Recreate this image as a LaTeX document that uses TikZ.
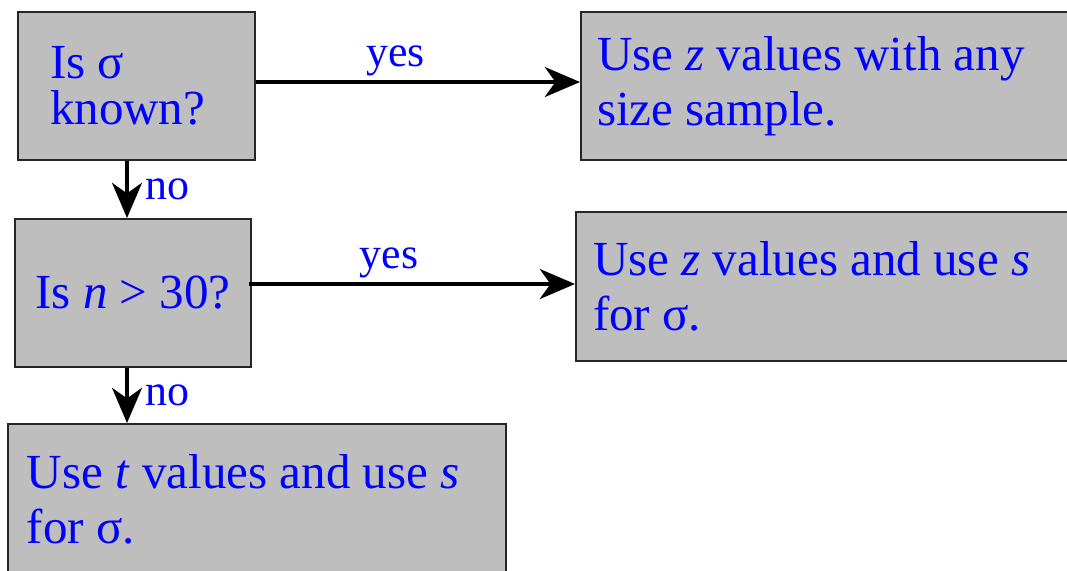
\documentclass[tikz,border=0pt]{standalone}
\usepackage{fontspec}
\setmainfont{Liberation Serif}
\usetikzlibrary{positioning,arrows.meta}
\definecolor{boxgray}{HTML}{BEBEBE}
\definecolor{textblue}{HTML}{0000FF}

\begin{document}
\begin{tikzpicture}[
    box/.style={draw=black!85, line width=1.1pt, fill=boxgray, text=textblue, inner ysep=0pt,
      font=\fontsize{27.9}{31.3}\selectfont},
    answer/.style={box, align=flush left},
    flow/.style={-{Stealth[length=20pt,width=17pt,inset=6pt]}, line width=2.3pt},
    lbl/.style={text=textblue, font=\fontsize{25}{30}\selectfont, inner sep=2pt},
  ]
  \useasboundingbox (0,0) rectangle (21.34,-11.4);
  % questions
  \node[box, align=flush left, text width=3.46cm, inner xsep=0.64cm, minimum height=2.96cm,
    font=\fontsize{27.9}{26.2}\selectfont] (isknown) at (2.73,-1.72)
    {Is σ\\known?};
  \node[box, minimum width=4.72cm, minimum height=2.96cm] (nbig) at (2.66,-5.86)
    {Is \textit{n} > 30?};
  % answers
  \node[answer, text width=9.34cm, inner xsep=0.32cm, minimum height=2.96cm] (zany) at (16.61,-1.72)
    {Use \textit{z} values with any\\size sample.};
  \node[answer, text width=9.40cm, inner xsep=0.34cm, minimum height=2.98cm] (zs) at (16.56,-5.73)
    {Use \textit{z} values and use \textit{s}\\for σ.};
  \node[answer, text width=9.20cm, inner xsep=0.38cm, minimum height=3.02cm] (ts) at (5.14,-9.99)
    {Use \textit{t} values and use \textit{s}\\for σ.};
  % connectors
  \draw[flow] ([yshift=0.08cm]isknown.east) -- ([yshift=0.08cm]zany.west)
    node[lbl, pos=0.43, above] {yes};
  \draw[flow] ([xshift=-0.06cm,yshift=0.18cm]nbig.east) -- ([yshift=0.18cm]nbig.east -| zs.west)
    node[lbl, pos=0.43, above] {yes};
  \draw[flow] ([xshift=-0.19cm]isknown.south) -- ([xshift=-0.19cm]isknown.south |- nbig.north)
    node[lbl, midway, right=0.25cm] {no};
  \draw[flow] ([xshift=-0.12cm]nbig.south) -- ([xshift=-0.12cm]nbig.south |- ts.north)
    node[lbl, midway, right=0.25cm] {no};
\end{tikzpicture}
\end{document}
